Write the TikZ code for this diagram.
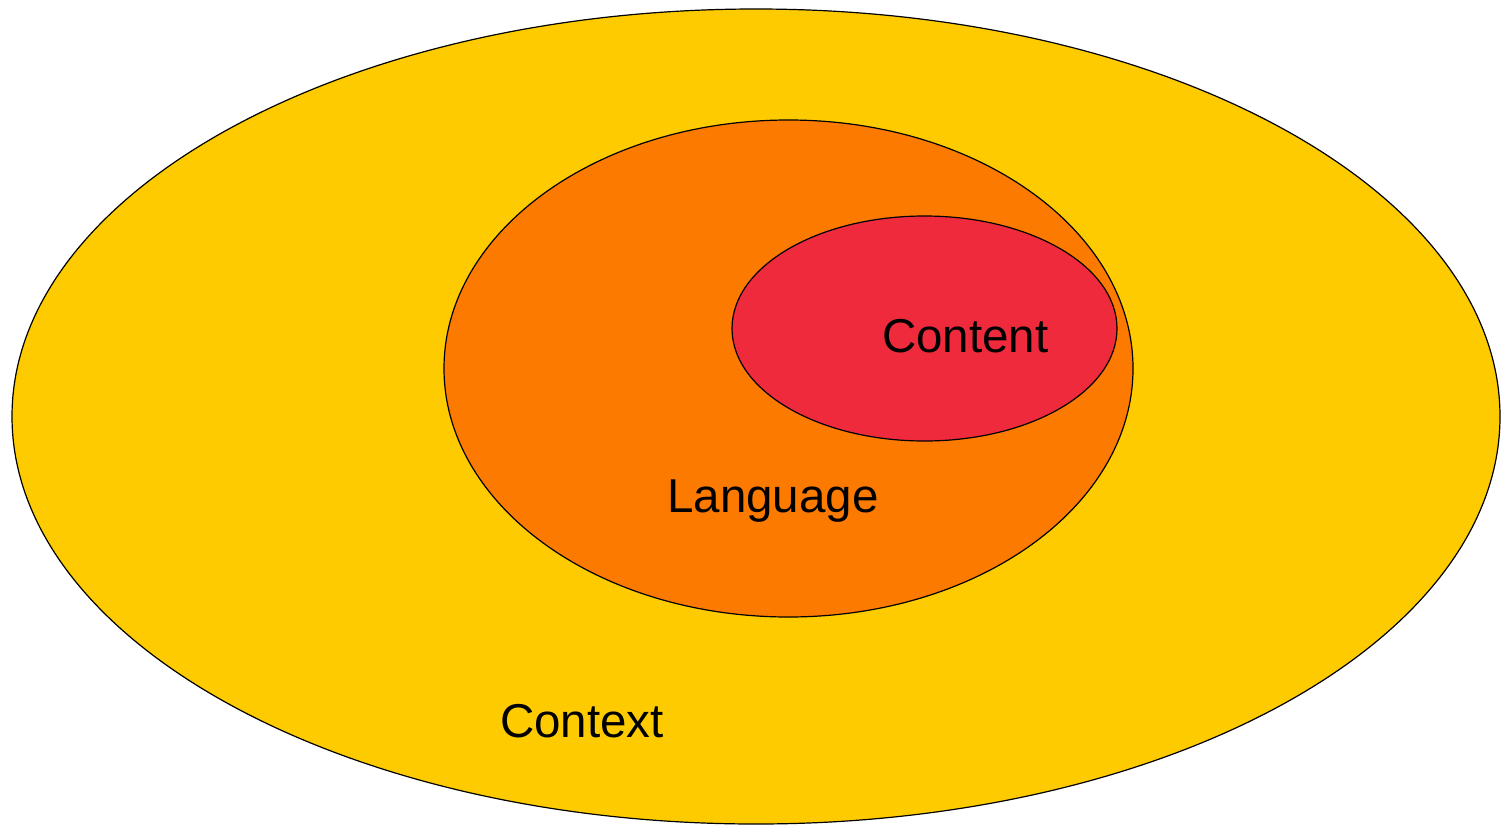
\documentclass[tikz,border=0pt]{standalone}
\usepackage{fontspec}
\setmainfont{Liberation Sans}
\usetikzlibrary{shapes.geometric}
\definecolor{ctxyellow}{HTML}{FDCB00}
\definecolor{langorange}{HTML}{FC7A00}
\definecolor{contred}{HTML}{EE2A3C}
\begin{document}
\begin{tikzpicture}[x=1pt,y=-1pt,
  zone/.style={ellipse,draw=black,line width=1.2pt,inner sep=0pt},
  lbl/.style={anchor=base west,inner sep=0pt,font=\fontsize{47.5}{50}\selectfont,text=black}]
\useasboundingbox (0,0) rectangle (1501,825);
\node[zone,fill=ctxyellow,minimum width=1488pt,minimum height=815pt] (context) at (756,416.5) {};
\node[zone,fill=langorange,minimum width=689pt,minimum height=497pt] (language) at (788.5,368.5) {};
\node[zone,fill=contred,minimum width=385pt,minimum height=225pt] (content) at (924.5,328.5) {};
\node[lbl] (tcontent) at (882,352) {Content};
\node[lbl] (tlanguage) at (667,512) {Language};
\node[lbl] (tcontext) at (500,737) {Context};
\end{tikzpicture}
\end{document}
